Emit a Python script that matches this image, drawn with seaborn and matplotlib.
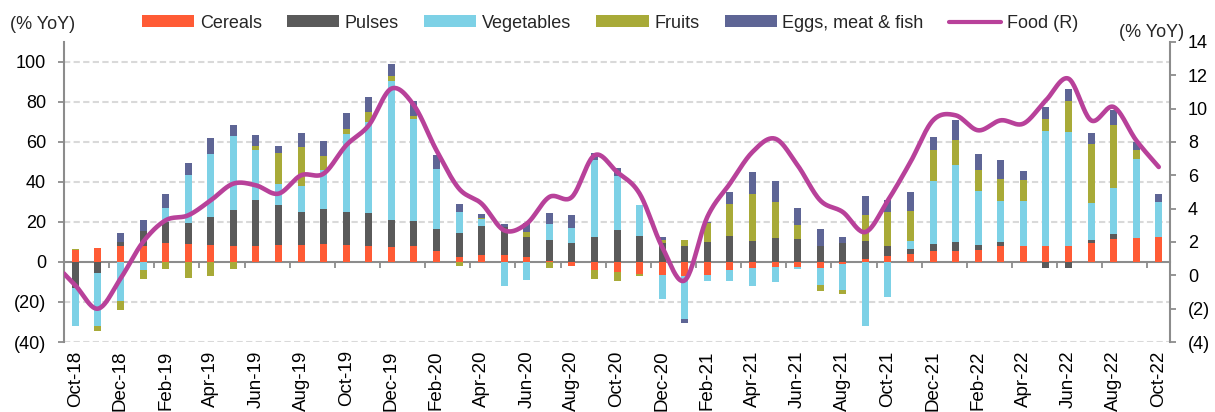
import numpy as np
import pandas as pd
import matplotlib
matplotlib.use("Agg")
import matplotlib.pyplot as plt
from matplotlib.patches import Patch
from matplotlib.lines import Line2D
import seaborn as sns

# months on the category axis
months = pd.date_range("2018-10-01", periods=49, freq="MS").strftime("%b-%y").tolist()

# contributions (% YoY)
cereals = [6, 7, 8, 8.2, 9.7, 8.8, 8.3, 7.8, 7.8, 8.7, 8.3, 8.8, 8.3, 7.8, 7.7, 7.8, 5.3, 2.5,
           3.5, 3.3, 2.5, 0.7, -1.8, -3.8, -5.2, -5.8, -6.5, -7.2, -6.7, -4.2, -3.2, -2.7, -2.7,
           -2.8, -0.8, 1.3, 3.2, 4, 5.3, 5.5, 6.2, 8.2, 7.8, 7.8, 7.8, 9.5, 11.7, 11.8, 12.3]
pulses = [-13, -5.5, 2, 7.3, 10.3, 10.5, 14.3, 18.3, 23, 19.8, 16.5, 17.5, 16.5, 16.7, 13.2,
          12.5, 11, 12, 14.5, 14.2, 10.2, 10.2, 9.7, 12.3, 15.8, 12.8, 9.3, 7.8, 10, 12.8, 10.5,
          11.8, 11.3, 8, 9.5, 9, 4.8, 2.5, 3.5, 4.5, 2.3, 2, 0, -3.2, -2.8, 1.3, 2.5, 0, 0]
vegetables = [-19, -26.7, -19.5, -4.2, 7.2, 24.2, 31.5, 36.7, 25.2, 10.7, 13.2, 19.8, 39, 45.7,
              69.8, 51, 30.3, 10.7, 3.5, -12.2, -9.2, 8.3, 7.3, 38.5, 27, 15.8, -12, -21.5, -2.8,
              -5.2, -8.8, -7.2, -0.8, -8.7, -13.2, -32.2, -17.5, 3.8, 31.5, 38.5, 27.2, 20.2,
              22.7, 57.8, 57.3, 18.7, 22.8, 39.8, 17.8]
fruits = [0.5, -2.3, -4.7, -4.3, -3.7, -7.8, -7, -3.7, 1.8, 15.5, 19.5, 6.7, 2.8, 4.7, 2.2, 1.8,
          0, -2, 0.3, 0, 2.5, -3.2, 0, -4.7, -4.3, -1.2, 1.8, 3, 9.5, 16.3, 23.7, 18, 7, -3, -2,
          13, 16.8, 15.3, 15.5, 12.3, 10.3, 11.2, 10.7, 5.8, 15.5, 29.7, 31.3, 4.5, 0]
eggs_meat_fish = [0, 0, 4.5, 5.7, 6.7, 6, 7.8, 5.8, 5.5, 3.5, 7, 7.5, 7.7, 7.8, 6.3, 7.5, 6.7, 4,
                  2.2, 1.7, 4.3, 5.2, 6.3, 3.8, 4.2, 0, 1.2, -1.7, 0.7, 5.7, 11, 10.8, 8.8, 8.3,
                  3.2, 9.8, 6.3, 9.3, 6.7, 10, 8, 9.2, 4.5, 6.3, 5.7, 5.5, 7.8, 3.8, 4]

# food inflation (right axis); first value is Sep-18, just left of the plot
food_sep18 = 0.8
food = [-0.6, -2.0, -0.2, 2.0, 3.3, 3.6, 4.5, 5.5, 5.4, 4.9, 6.0, 6.1, 7.8, 9.0, 11.2, 10.2, 7.5,
        5.2, 4.3, 2.7, 3.1, 4.7, 4.7, 7.2, 6.2, 4.9, 1.7, -0.3, 3.5, 5.5, 7.4, 8.2, 6.6, 4.5, 3.8,
        2.6, 4.5, 6.8, 9.3, 9.6, 8.7, 9.3, 9.1, 10.5, 11.8, 9.3, 10.1, 8.1, 6.5]

series = [("Cereals", cereals, "#FF5B35"),
          ("Pulses", pulses, "#5A5A5A"),
          ("Vegetables", vegetables, "#7DD1E6"),
          ("Fruits", fruits, "#A8AA38"),
          ("Eggs, meat & fish", eggs_meat_fish, "#5E6595")]
food_color = "#B8419A"
grey = "#8C8C8C"


def smooth(x, y, n=24):
    # Catmull-Rom curve through the points, like Excel's smoothed line
    p = np.column_stack([x, y]).astype(float)
    p = np.vstack([p[0], p, p[-1]])
    t = np.linspace(0, 1, n, endpoint=False)[:, None]
    out = []
    for i in range(1, len(p) - 2):
        p0, p1, p2, p3 = p[i - 1], p[i], p[i + 1], p[i + 2]
        out.append(0.5 * (2 * p1 + (p2 - p0) * t + (2 * p0 - 5 * p1 + 4 * p2 - p3) * t ** 2
                          + (3 * p1 - p0 - 3 * p2 + p3) * t ** 3))
    out.append(p[-2][None, :])
    out = np.vstack(out)
    return out[:, 0], out[:, 1]


sns.set_theme(style="white")
plt.rcParams["font.family"] = ["Liberation Sans", "DejaVu Sans"]
plt.rcParams["font.size"] = 13

fig = plt.figure(figsize=(12.15, 4.12), dpi=100)
ax = fig.add_axes([0.0527, 0.1699, 0.9103, 0.7282])
ax2 = ax.twinx()

x = np.arange(len(months))
pos_base = np.zeros(len(x))
neg_base = np.zeros(len(x))
for name, vals, col in series:
    v = np.array(vals, dtype=float)
    pos = np.where(v > 0, v, 0)
    neg = np.where(v < 0, v, 0)
    ax.bar(x, pos, bottom=pos_base, width=0.31, color=col, linewidth=0, zorder=2)
    ax.bar(x, neg, bottom=neg_base, width=0.31, color=col, linewidth=0, zorder=2)
    pos_base += pos
    neg_base += neg

lx, ly = smooth(np.arange(-1, len(food)), [food_sep18] + food)
sns.lineplot(x=lx, y=ly, ax=ax2, sort=False, estimator=None, color=food_color,
             linewidth=3.3, legend=False)

# left axis
ax.set_xlim(-0.5, len(x) - 0.5)
ax.set_ylim(-40, 110)
ax.set_yticks(np.arange(-40, 101, 20))
ax.set_yticklabels([f"({-v})" if v < 0 else f"{v}" for v in range(-40, 101, 20)])
for v in range(-40, 101, 20):
    if v != 0:
        ax.axhline(v, color="#D9D9D9", linewidth=1.5, linestyle=(0, (3, 1.6)), zorder=0)
ax.set_xticks(x[::2])
ax.set_xticklabels(months[::2], rotation=90)
ax.tick_params(axis="x", length=0, pad=6, labelsize=13.5, colors="black")
ax.tick_params(axis="y", direction="out", length=4, width=1.3, color=grey, pad=9,
               labelsize=13, labelcolor="black", left=True)

# right axis
ax2.set_ylim(-4, 14)
ax2.set_yticks(np.arange(-4, 15, 2))
ax2.set_yticklabels([f"({-v})" if v < 0 else f"{v}" for v in range(-4, 15, 2)])
ax2.tick_params(axis="y", direction="out", length=4, width=1.3, color=grey, pad=9,
                labelsize=13, labelcolor="black", right=True)
ax2.grid(False)
ax.grid(False)

for a in (ax, ax2):
    a.spines["top"].set_visible(False)
    a.spines["bottom"].set_visible(False)
    a.spines["left"].set_color(grey)
    a.spines["right"].set_color(grey)
    a.spines["left"].set_linewidth(1.5)
    a.spines["right"].set_linewidth(1.5)
ax.spines["right"].set_visible(False)
ax2.spines["left"].set_visible(False)

# zero line with category tick marks every two months
zero_pos = (0 - (-40)) / (110 - (-40))
sec = ax.secondary_xaxis(zero_pos)
sec.set_xticks(np.arange(1.5, len(x) - 1, 2))
sec.set_xticklabels([])
sec.tick_params(axis="x", direction="out", length=4, width=1.3, color=grey)
sec.spines["bottom"].set_color(grey)
sec.spines["bottom"].set_linewidth(1.5)

fig.text(0.008, 0.94, "(% YoY)", fontsize=13, va="center", ha="left")
fig.text(0.921, 0.92, "(% YoY)", fontsize=13, va="center", ha="left")

handles = [Patch(facecolor=col, edgecolor="none", label=name) for name, _, col in series]
handles.append(Line2D([0], [0], color=food_color, linewidth=3, label="Food (R)"))
fig.legend(handles=handles, loc="center", bbox_to_anchor=(0.502, 0.944), ncol=6,
           frameon=False, fontsize=13, handlelength=2.9, handleheight=0.6,
           handletextpad=0.3, columnspacing=1.4)

fig.savefig("out.png", dpi=100)
